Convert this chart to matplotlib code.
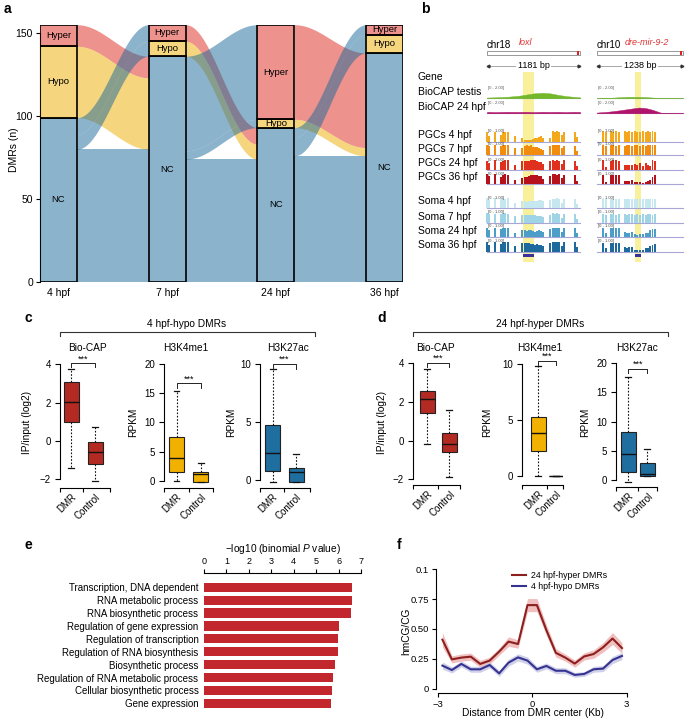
import numpy as np
import matplotlib
matplotlib.use('Agg')
import matplotlib.pyplot as plt
from matplotlib.patches import Rectangle
from matplotlib.colors import to_rgba

plt.rcParams['font.family'] = ['Liberation Sans', 'DejaVu Sans']
plt.rcParams['mathtext.fontset'] = 'custom'
plt.rcParams['mathtext.rm'] = 'Liberation Sans'
plt.rcParams['mathtext.it'] = 'Liberation Sans:italic'

# ---------------- DATA ----------------
# panel a : alluvial
stages = ['4 hpf', '7 hpf', '24 hpf', '36 hpf']
cats = ['NC', 'Hypo', 'Hyper']
cat_colors = {'NC': '#1B699A', 'Hypo': '#EFAD00', 'Hyper': '#DC261C'}
flows_4_7 = [('NC', 'NC', 80), ('NC', 'Hypo', 9), ('NC', 'Hyper', 10), ('Hypo', 'NC', 43), ('Hyper', 'NC', 13)]
flows_7_24 = [('NC', 'NC', 74), ('NC', 'Hypo', 5), ('NC', 'Hyper', 57), ('Hypo', 'NC', 9), ('Hyper', 'NC', 10)]
flows_24_36 = [('NC', 'NC', 76), ('NC', 'Hypo', 11), ('NC', 'Hyper', 6), ('Hypo', 'NC', 5), ('Hyper', 'NC', 57)]
a_yticks = [0, 50, 100, 150]

# panel b : genome browser
track_names = ['PGCs 4 hpf', 'PGCs 7 hpf', 'PGCs 24 hpf', 'PGCs 36 hpf',
               'Soma 4 hpf', 'Soma 7 hpf', 'Soma 24 hpf', 'Soma 36 hpf']
track_colors = ['#F4A81D', '#F28C0F', '#E0301E', '#B5121B',
                '#C6E7F0', '#9FD3E6', '#4D9DC9', '#1F6A9C']
loxl_len = 1181
loxl_dmr = [457, 597]
loxl_cpg = [0, 25, 102, 178, 203, 229, 267, 356, 445, 483, 508, 533, 559, 584, 610, 635, 660, 686, 711,
            800, 838, 864, 889, 914, 953, 978, 1118, 1143]
loxl_meth = [
    [0.9, 0.5, 0.85, 0.6, 0.9, 0.85, 0.9, 0.5, 0.3, 0.15, 0.15, 0.2, 0.2, 0.25, 0.3, 0.35, 0.45, 0.5, 0.35, 0.3, 0.95, 0.9, 1.0, 0.9, 0.6, 0.9, 0.85, 0.4],
    [0.9, 0.8, 0.9, 0.85, 0.95, 0.9, 0.9, 0.6, 0.6, 0.8, 0.9, 0.85, 0.9, 0.75, 0.7, 0.7, 0.6, 0.55, 0.5, 0.8, 0.9, 0.95, 0.9, 0.9, 0.6, 0.85, 0.8, 0.4],
    [0.8, 0.6, 0.9, 0.7, 0.85, 0.9, 0.9, 0.5, 0.8, 0.8, 0.85, 0.85, 0.9, 0.9, 0.95, 0.8, 0.7, 0.75, 0.55, 0.8, 0.9, 0.85, 0.9, 0.8, 0.55, 0.9, 0.85, 0.4],
    [0.9, 0.7, 0.9, 0.6, 0.85, 0.9, 0.85, 0.4, 0.55, 0.6, 0.65, 0.7, 0.8, 0.85, 0.85, 0.85, 0.7, 0.75, 0.5, 0.7, 0.9, 0.9, 0.85, 0.9, 0.55, 0.8, 0.85, 0.3],
    [0.9, 0.7, 0.9, 0.8, 0.9, 0.85, 0.9, 0.5, 0.6, 0.6, 0.55, 0.6, 0.6, 0.6, 0.6, 0.65, 0.7, 0.7, 0.6, 0.7, 0.85, 0.85, 0.9, 0.8, 0.5, 0.85, 0.8, 0.4],
    [0.9, 0.8, 0.85, 0.8, 0.9, 0.9, 0.85, 0.6, 0.75, 0.7, 0.7, 0.75, 0.7, 0.7, 0.7, 0.65, 0.6, 0.65, 0.55, 0.7, 0.9, 0.85, 0.9, 0.85, 0.5, 0.85, 0.8, 0.4],
    [0.8, 0.6, 0.85, 0.7, 0.8, 0.85, 0.8, 0.4, 0.6, 0.6, 0.55, 0.6, 0.6, 0.55, 0.5, 0.55, 0.6, 0.55, 0.5, 0.7, 0.85, 0.8, 0.85, 0.8, 0.5, 0.85, 0.8, 0.35],
    [0.9, 0.6, 0.85, 0.7, 0.85, 0.9, 0.85, 0.5, 0.75, 0.8, 0.75, 0.8, 0.7, 0.7, 0.65, 0.7, 0.65, 0.6, 0.55, 0.75, 0.9, 0.85, 0.9, 0.85, 0.55, 0.85, 0.85, 0.4],
]
loxl_biocap_pos = [0, 100, 250, 400, 500, 600, 700, 800, 900, 1000, 1100, 1181]
loxl_testis = [0.15, 0.2, 0.3, 0.5, 0.75, 1.0, 1.1, 1.0, 0.7, 0.45, 0.3, 0.2]
loxl_24hpf = [0.3, 0.25, 0.3, 0.28, 0.3, 0.25, 0.3, 0.28, 0.3, 0.25, 0.3, 0.28]
mir_len = 1238
mir_dmr = [547, 633]
mir_cpg = [86, 130, 202, 230, 274, 317, 403, 432, 461, 504, 547, 576, 619, 662, 705, 734, 763, 799, 835]
mir_meth = [
    [0.95, 0.9, 0.95, 0.9, 0.95, 0.9, 0.95, 0.9, 0.95, 0.9, 0.95, 0.9, 0.9, 0.95, 0.9, 0.95, 0.9, 0.95, 0.9],
    [0.9, 0.85, 0.9, 0.9, 0.85, 0.9, 0.85, 0.9, 0.9, 0.85, 0.9, 0.95, 0.85, 0.9, 0.85, 0.9, 0.9, 0.95, 0.9],
    [0.9, 0.3, 0.85, 0.9, 0.9, 0.85, 0.5, 0.45, 0.45, 0.5, 0.55, 0.45, 0.6, 0.35, 0.6, 0.45, 0.35, 0.9, 0.85],
    [0.8, 0.2, 0.85, 0.8, 0.8, 0.85, 0.25, 0.3, 0.3, 0.35, 0.15, 0.15, 0.15, 0.1, 0.2, 0.3, 0.4, 0.6, 0.8],
    [0.85, 0.8, 0.85, 0.8, 0.85, 0.8, 0.8, 0.85, 0.8, 0.85, 0.8, 0.85, 0.8, 0.85, 0.8, 0.85, 0.8, 0.85, 0.8],
    [0.8, 0.75, 0.8, 0.8, 0.75, 0.8, 0.8, 0.75, 0.8, 0.8, 0.75, 0.8, 0.75, 0.8, 0.75, 0.8, 0.8, 0.75, 0.8],
    [0.85, 0.4, 0.8, 0.85, 0.8, 0.85, 0.45, 0.35, 0.4, 0.45, 0.25, 0.2, 0.3, 0.3, 0.35, 0.4, 0.6, 0.7, 0.75],
    [0.8, 0.3, 0.8, 0.75, 0.8, 0.8, 0.4, 0.35, 0.4, 0.45, 0.15, 0.15, 0.15, 0.2, 0.3, 0.35, 0.5, 0.6, 0.7],
]
mir_biocap_pos = [0, 150, 300, 450, 600, 700, 800, 935, 1100, 1238]
mir_testis = [0.0, 0.05, 0.2, 0.3, 0.3, 0.25, 0.15, 0.02, 0.0, 0.0]
mir_24hpf = [0.15, 0.3, 0.55, 0.85, 1.15, 1.05, 0.7, 0.05, 0.0, 0.0]

# panels c, d : box stats [whislo, q1, med, q3, whishi]
box_groups = ['DMR', 'Control']
c_biocap = [[-1.39, 1.0, 2.02, 3.06, 3.74], [-2.07, -1.2, -0.56, -0.03, 0.71]]
c_k4me1 = [[0.0, 1.6, 3.9, 7.6, 15.3], [-0.1, -0.1, 1.2, 1.6, 3.0]]
c_k27ac = [[-0.2, 0.8, 2.3, 4.7, 9.6], [-0.2, -0.2, 0.7, 1.0, 2.2]]
d_biocap = [[-0.17, 1.41, 2.14, 2.57, 3.71], [-1.9, -0.6, -0.19, 0.38, 1.59]]
d_k4me1 = [[0.0, 2.2, 3.8, 5.3, 9.8], [0.0, 0.0, 0.0, 0.0, 0.0]]
d_k27ac = [[-0.3, 1.3, 4.5, 8.2, 17.7], [0.6, 0.6, 1.0, 2.9, 5.3]]

# panel e
go_terms = ['Transcription, DNA dependent', 'RNA metabolic process', 'RNA biosynthetic process',
            'Regulation of gene expression', 'Regulation of transcription', 'Regulation of RNA biosynthesis',
            'Biosynthetic process', 'Regulation of RNA metabolic process', 'Cellular biosynthetic process',
            'Gene expression']
go_vals = [6.59, 6.59, 6.57, 6.0, 5.98, 5.98, 5.82, 5.77, 5.70, 5.65]

# panel f
f_x = [-2.85, -2.55, -2.25, -1.95, -1.65, -1.35, -1.05, -0.75, -0.45, -0.15,
       0.15, 0.45, 0.75, 1.05, 1.35, 1.65, 1.95, 2.25, 2.55, 2.85]
f_hyper = [0.41, 0.245, 0.26, 0.268, 0.207, 0.235, 0.31, 0.394, 0.374, 0.70,
           0.70, 0.49, 0.30, 0.26, 0.21, 0.27, 0.29, 0.346, 0.42, 0.34]
f_hyper_se = [0.06, 0.03, 0.03, 0.03, 0.03, 0.03, 0.03, 0.04, 0.035, 0.055,
              0.055, 0.045, 0.035, 0.03, 0.03, 0.03, 0.035, 0.04, 0.05, 0.045]
f_hypo = [0.193, 0.156, 0.207, 0.162, 0.162, 0.198, 0.128, 0.218, 0.262, 0.235,
          0.162, 0.19, 0.15, 0.15, 0.115, 0.123, 0.162, 0.168, 0.24, 0.274]
f_hypo_se = [0.03, 0.025, 0.025, 0.025, 0.025, 0.025, 0.025, 0.03, 0.03, 0.03,
             0.025, 0.025, 0.025, 0.025, 0.02, 0.02, 0.025, 0.025, 0.03, 0.03]

# ---------------- LAYOUT HELPERS ----------------
W, H = 685, 720
fig = plt.figure(figsize=(W / 100, H / 100), dpi=100)


def box(l, t, r, b):
    return [l / W, 1 - b / H, (r - l) / W, (b - t) / H]


def ftext(x, y, s, **kw):
    return fig.text(x / W, 1 - y / H, s, **kw)


for lbl, (x, y) in zip('abcdef', [(4, 9), (421, 9), (24, 318), (377, 318), (24, 545), (397, 545)]):
    ftext(x, y, lbl, fontsize=10, fontweight='bold', va='center', ha='left')

# ---------------- PANEL A ----------------
axa = fig.add_axes(box(40, 24.7, 403, 282))
axa.patch.set_visible(False)
bw = 0.34
sx = np.arange(1, len(stages) + 1)
axa.set_xlim(1 - bw / 2, len(stages) + bw / 2)
axa.set_ylim(0, 155)
transitions = [flows_4_7, flows_7_24, flows_24_36]
ci = {c: i for i, c in enumerate(cats)}

totals = [{c: sum(n for s, d, n in transitions[0] if s == c) for c in cats}]
for tr in transitions:
    totals.append({c: sum(n for s, d, n in tr if d == c) for c in cats})
bottoms = []
for tot in totals:
    b, acc = {}, 0
    for c in cats:
        b[c] = acc
        acc += tot[c]
    bottoms.append(b)

t = np.linspace(0, 1, 80)
sig = (1 - np.cos(np.pi * t)) / 2
for k, tr in enumerate(transitions):
    src_pos = {}
    cur = dict(bottoms[k])
    for s, d, n in sorted(tr, key=lambda f: (ci[f[0]], ci[f[1]])):
        src_pos[(s, d)] = cur[s]
        cur[s] += n
    dst_pos = {}
    cur = dict(bottoms[k + 1])
    for s, d, n in sorted(tr, key=lambda f: (ci[f[1]], ci[f[0]])):
        dst_pos[(s, d)] = cur[d]
        cur[d] += n
    x0, x1 = sx[k] + bw / 2, sx[k + 1] - bw / 2
    xs = x0 + (x1 - x0) * t
    for s, d, n in sorted(tr, key=lambda f: -ci[f[0]]):
        y0, y1 = src_pos[(s, d)], dst_pos[(s, d)]
        lo = y0 + (y1 - y0) * sig
        axa.fill_between(xs, lo, lo + n, color=cat_colors[s], alpha=0.5, lw=0)

for k in range(len(stages)):
    for c in cats:
        h = totals[k][c]
        b = bottoms[k][c]
        axa.add_patch(Rectangle((sx[k] - bw / 2, b), bw, h, facecolor=to_rgba(cat_colors[c], 0.5),
                                edgecolor='black', lw=1.2, zorder=3))
        axa.text(sx[k], b + h / 2, c, ha='center', va='center', fontsize=6.8, zorder=4)

for sp in ['top', 'right', 'bottom']:
    axa.spines[sp].set_visible(False)
axa.spines['left'].set_bounds(0, 150)
axa.spines['left'].set_linewidth(0.8)
axa.set_yticks(a_yticks)
axa.tick_params(axis='y', length=3, width=0.8, labelsize=7.5, pad=2)
axa.set_xticks(sx, stages)
axa.tick_params(axis='x', length=0, labelsize=7.5, pad=4)
ftext(14, 150, 'DMRs (n)', rotation=90, ha='center', va='center', fontsize=7.5)

# ---------------- PANEL B ----------------
axb = fig.add_axes(box(410, 20, 685, 270))
axb.set_xlim(410, 685)
axb.set_ylim(270, 20)
axb.axis('off')

label_x = 418
biocap_base = [98.3, 113.3]
meth_base = [141.7, 155, 170, 184, 208, 223, 237, 251.7]
axb.text(label_x, 77, 'Gene', fontsize=7.5, va='center')
axb.text(label_x, biocap_base[0] - 6.5, 'BioCAP testis', fontsize=7.5, va='center')
axb.text(label_x, biocap_base[1] - 6.5, 'BioCAP 24 hpf', fontsize=7.5, va='center')
for nm, yb in zip(track_names, meth_base):
    axb.text(label_x, yb - 6.5, nm, fontsize=7.5, va='center')

loci = [
    dict(chrom='chr18', gene='loxl', L=loxl_len, x0=487, x1=580, gx=519, dmr=loxl_dmr, cpg=loxl_cpg,
         meth=loxl_meth, bpos=loxl_biocap_pos, testis=loxl_testis, b24=loxl_24hpf),
    dict(chrom='chr10', gene='dre-mir-9-2', L=mir_len, x0=597, x1=683, gx=625, dmr=mir_dmr, cpg=mir_cpg,
         meth=mir_meth, bpos=mir_biocap_pos, testis=mir_testis, b24=mir_24hpf),
]
for lc in loci:
    x0, x1, L = lc['x0'], lc['x1'], lc['L']

    def px(bp):
        return x0 + np.asarray(bp, dtype=float) / L * (x1 - x0)

    d0, d1 = px(lc['dmr'])
    axb.add_patch(Rectangle((d0, 69), d1 - d0, 193, color='#F8F09A', lw=0, zorder=0))
    axb.add_patch(Rectangle((d0, 254), d1 - d0, 3.2, color='#3C2F9E', lw=0, zorder=3))
    axb.text(x0, 48.5, lc['chrom'], fontsize=7, va='baseline', ha='left')
    axb.text(lc['gx'], 45, lc['gene'], fontsize=6.5, va='baseline', ha='left', style='italic', color='#E03535')
    axb.add_patch(Rectangle((x0, 51), x1 - x0, 3.5, facecolor='white', edgecolor='#888888', lw=0.6))
    axb.add_patch(Rectangle((x1 - 3, 50.5), 1.6, 4.5, color='#E02020', lw=0))
    axb.plot([x0 + 1, x1 - 1], [65.7, 65.7], color='#999999', lw=0.6)
    axb.plot([x0 + 1], [65.7], marker='<', ms=2, color='#333333')
    axb.plot([x1 - 1], [65.7], marker='>', ms=2, color='#333333')
    axb.text((x0 + x1) / 2, 65.7, '%d bp' % L, fontsize=6.5, ha='center', va='center',
             bbox=dict(facecolor='white', edgecolor='none', pad=1))
    # BioCAP
    for yb, vals, col in [(biocap_base[0], lc['testis'], '#72B82A'), (biocap_base[1], lc['b24'], '#B0156B')]:
        axb.plot([x0, x1], [yb, yb], color='#A8A6D6', lw=0.8, zorder=1)
        xs = px(lc['bpos'])
        axb.fill_between(xs, yb, yb - np.asarray(vals) * 5, color=col, lw=0.3, zorder=2)
        axb.text(x0 + 1, yb - 10, '[0 - 2.00]', fontsize=3, color='#555555', va='center')
    # methylation
    for yb, vals, col in zip(meth_base, lc['meth'], track_colors):
        axb.plot([x0, x1], [yb, yb], color='#A8A6D6', lw=0.8, zorder=1)
        axb.bar(px(lc['cpg']), -np.asarray(vals) * 11, bottom=yb, width=1.4, color=col, lw=0, zorder=2)
        axb.text(x0 + 1, yb - 10.5, '[0 - 1.00]', fontsize=3, color='#444444', va='center', zorder=3)

# ---------------- PANELS C, D ----------------
box_colors = ['#B22A22', '#F2B100', '#1F6EA0']
titles = ['Bio-CAP', 'H3K4me1', 'H3K27ac']
ylabels = ['IP/input (log2)', 'RPKM', 'RPKM']
specs = [
    # data, color, left, right, top, bottom, ylim, yticks, centers, title_x, ylabel_x, bracket y, bracket drop
    (c_biocap, 0, 60, 110, 364.3, 488, (-2.45, 4), [-2, 0, 2, 4], (71, 95), 87, 27, 4.05, 0.2),
    (c_k4me1, 1, 164, 213, 364, 488, (-1.2, 20), [0, 5, 10, 15, 20], (176.5, 201), 186, 133, 16.7, 0.8),
    (c_k27ac, 2, 260, 310, 364, 488, (-0.69, 10), [0, 5, 10], (272.5, 296), 288, 231, 10.0, 0.4),
    (d_biocap, 0, 413, 460, 363.3, 485, (-2.29, 4), [-2, 0, 2, 4], (427.5, 449.5), 435, 382, 4.03, 0.22),
    (d_k4me1, 1, 522, 563, 364, 485, (-0.83, 10), [0, 5, 10], (538, 556), 540, 487, 10.3, 0.4),
    (d_k27ac, 2, 616, 657, 363.3, 486.7, (-1.15, 20), [0, 5, 10, 15, 20], (628.3, 647.5), 637, 585, 19.0, 0.7),
]
for data, ci_, l, r, tp, bt, yl, yt, cen, tx, ylx, byy, bdrop in specs:
    ax = fig.add_axes(box(l, tp, r, bt))
    ax.patch.set_visible(False)
    unit = cen[1] - cen[0]
    lo = 1 - (cen[0] - l) / unit
    hi = 2 + (r - cen[1]) / unit
    ax.set_xlim(lo, hi)
    ax.set_ylim(*yl)
    stats = [dict(whislo=s[0], q1=s[1], med=s[2], q3=s[3], whishi=s[4], fliers=[]) for s in data]
    ax.bxp(stats, positions=[1, 2], widths=15 / unit, patch_artist=True, showfliers=False,
           boxprops=dict(facecolor=box_colors[ci_], edgecolor='#222222', lw=0.8),
           medianprops=dict(color='#111111', lw=1.0),
           whiskerprops=dict(color='#111111', lw=0.8, linestyle=(0, (1.5, 1.5))),
           capprops=dict(color='#111111', lw=0.9), capwidths=6 / unit, manage_ticks=False)
    for sp in ['top', 'right']:
        ax.spines[sp].set_visible(False)
    ax.spines['left'].set_bounds(yt[0], yt[-1])
    ax.spines['bottom'].set_bounds(lo, hi)
    for sp in ['left', 'bottom']:
        ax.spines[sp].set_linewidth(0.8)
    ax.set_yticks(yt)
    ax.set_yticklabels([('\u2212%g' % -v) if v < 0 else '%g' % v for v in yt])
    ax.tick_params(axis='y', length=3.5, width=0.8, labelsize=7, pad=3)
    ax.set_xticks([lo, 1.5, hi])
    ax.set_xticklabels([])
    ax.tick_params(axis='x', which='major', length=3, width=0.8)
    ax.set_xticks([1, 2], box_groups, minor=True)
    ax.tick_params(axis='x', which='minor', length=0, labelsize=7, pad=3)
    for tl in ax.get_xticklabels(minor=True):
        tl.set_rotation(45)
        tl.set_ha('right')
        tl.set_rotation_mode('anchor')
    ax.plot([1, 1, 2, 2], [byy - bdrop, byy, byy, byy - bdrop], color='#222222', lw=0.7, clip_on=False)
    ax.text(1.5, byy, '***', ha='center', va='bottom', fontsize=6.5, clip_on=False)
    ftext(tx, 348, titles[ci_], ha='center', va='center', fontsize=7.3)
    ftext(ylx, 422, ylabels[ci_], rotation=90, ha='center', va='center', fontsize=7.3)

for txt, cx, x0, x1 in [('4 hpf-hypo DMRs', 187, 60, 315), ('24 hpf-hyper DMRs', 540, 413, 668)]:
    ftext(cx, 324, txt, ha='center', va='center', fontsize=7.3)
    fig.add_artist(plt.Line2D([x0 / W, x0 / W, x1 / W, x1 / W],
                              [1 - 336 / H, 1 - 332 / H, 1 - 332 / H, 1 - 336 / H], color='#333333', lw=0.8))

# ---------------- PANEL E ----------------
axe = fig.add_axes(box(204, 572.7, 361, 709))
axe.patch.set_visible(False)
yy = np.arange(len(go_terms))
axe.barh(yy, go_vals, height=0.72, color='#C1272D')
axe.set_xlim(0, 7)
axe.set_ylim(9.44, -1.13)
for sp in ['bottom', 'left', 'right']:
    axe.spines[sp].set_visible(False)
axe.spines['top'].set_bounds(0, 7)
axe.spines['top'].set_linewidth(0.8)
axe.xaxis.tick_top()
axe.set_xticks(range(8))
axe.tick_params(axis='x', length=3, width=0.8, labelsize=6.5, pad=2)
axe.set_yticks(yy, go_terms)
axe.tick_params(axis='y', length=0, labelsize=7, pad=4)
ftext(283, 549, r'$-$log10 (binomial $\it{P}$ value)', ha='center', va='center', fontsize=7.3)

# ---------------- PANEL F ----------------
axf = fig.add_axes(box(436, 569.3, 628, 693.3))
axf.patch.set_visible(False)
axf.set_xlim(-3.054, 3.041)
axf.set_ylim(-0.039, 1.0)
fx = np.array(f_x)
for y, se, lc, bc, lab in [(f_hyper, f_hyper_se, '#8E1F1F', '#EBA5A5', '24 hpf-hyper DMRs'),
                           (f_hypo, f_hypo_se, '#35338F', '#BDBCE3', '4 hpf-hypo DMRs')]:
    y = np.array(y)
    se = np.array(se)
    axf.fill_between(fx, y - se, y + se, color=bc, alpha=0.7, lw=0)
    axf.plot(fx, y, color=lc, lw=1.5, label=lab)
for sp in ['top', 'right']:
    axf.spines[sp].set_visible(False)
axf.spines['left'].set_bounds(0, 1.0)
axf.spines['bottom'].set_bounds(-3, 3)
for sp in ['left', 'bottom']:
    axf.spines[sp].set_linewidth(0.8)
axf.set_yticks([0, 0.25, 0.5, 0.75, 1.0], ['0', '0.25', '0.50', '0.75', '0.1'])
axf.set_xticks([-3, 0, 3], ['\u22123', '0', '3'])
axf.tick_params(length=3, width=0.8, labelsize=6.8, pad=2)
leg = axf.legend(loc='upper left', bbox_to_anchor=((508 - 436) / 192, 1.02), frameon=False,
                 fontsize=6.3, handlelength=1.6, handletextpad=0.5, labelspacing=0.25, borderpad=0)
ftext(406, 631, 'hmCG/CG', rotation=90, ha='center', va='center', fontsize=7.3)
ftext(533, 713, 'Distance from DMR center (Kb)', ha='center', va='center', fontsize=7.3)

fig.savefig('out.png', dpi=100)
